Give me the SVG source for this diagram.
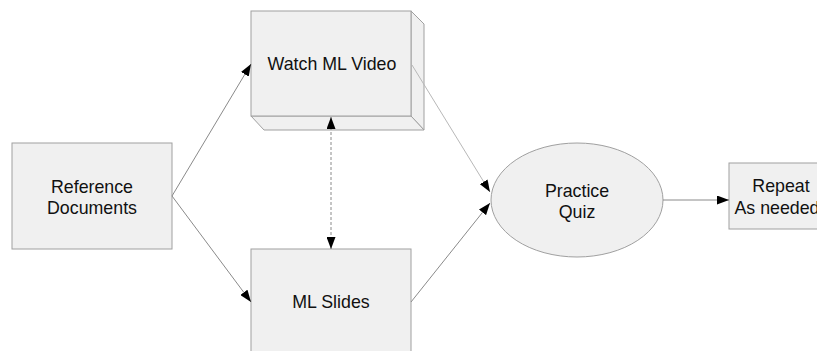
<svg xmlns="http://www.w3.org/2000/svg" width="817" height="351" viewBox="0 0 817 351">
  <defs>
    <style>
      .box { fill: #f0f0f0; stroke: #a0a0a0; stroke-width: 1; }
      .lbl { font-family: "Liberation Sans", Arial, sans-serif; font-size: 17.8px; fill: #111; text-anchor: middle; }
      .edge { fill: none; stroke: #8a8a8a; stroke-width: 1; }
      .edge-light { fill: none; stroke: #b8b8b8; stroke-width: 1; }
      .edge-dash { fill: none; stroke: #8a8a8a; stroke-width: 1; stroke-dasharray: 3 2; }
    </style>
    <marker id="arrow" viewBox="0 0 12 9" refX="12" refY="4.5" markerWidth="12" markerHeight="9" markerUnits="userSpaceOnUse" orient="auto-start-reverse">
      <path d="M0,0 L12,4.5 L0,9 Z" fill="#000"/>
    </marker>
  </defs>

  <rect width="817" height="351" fill="#fff"/>

  <!-- Reference Documents -->
  <g id="reference-documents">
    <rect class="box" x="12" y="143" width="160" height="106"/>
    <text class="lbl" x="92" y="193">Reference</text>
    <text class="lbl" x="92" y="214">Documents</text>
  </g>

  <!-- Watch ML Video (raised box) -->
  <g id="watch-ml-video">
    <polygon class="box" points="411,11 424,24 424,130 411,116"/>
    <polygon class="box" points="251,116 411,116 424,130 264,130"/>
    <rect class="box" x="251" y="11" width="160" height="105"/>
    <text class="lbl" x="332" y="70">Watch ML Video</text>
  </g>

  <!-- ML Slides -->
  <g id="ml-slides">
    <rect class="box" x="251" y="249" width="160" height="120"/>
    <text class="lbl" x="331" y="308">ML Slides</text>
  </g>

  <!-- Practice Quiz -->
  <g id="practice-quiz">
    <ellipse class="box" cx="577" cy="200" rx="86" ry="57"/>
    <text class="lbl" x="577" y="197">Practice</text>
    <text class="lbl" x="577" y="218">Quiz</text>
  </g>

  <!-- Repeat As needed -->
  <g id="repeat">
    <rect class="box" x="729" y="163" width="100" height="66"/>
    <text class="lbl" x="781" y="192">Repeat</text>
    <text class="lbl" x="777" y="214">As needed</text>
  </g>

  <!-- connectors, drawn over the node faces -->
  <g id="connectors">
    <line class="edge" x1="172" y1="196" x2="251" y2="64" marker-end="url(#arrow)"/>
    <line class="edge" x1="172" y1="196" x2="251" y2="302" marker-end="url(#arrow)"/>
    <line class="edge-dash" x1="331" y1="117" x2="331" y2="249" marker-start="url(#arrow)" marker-end="url(#arrow)"/>
    <line class="edge-light" x1="412" y1="65" x2="490" y2="192" marker-end="url(#arrow)"/>
    <line class="edge" x1="411" y1="302" x2="490" y2="203" marker-end="url(#arrow)"/>
    <line class="edge" x1="663" y1="200" x2="729" y2="200" marker-end="url(#arrow)"/>
  </g>
</svg>
